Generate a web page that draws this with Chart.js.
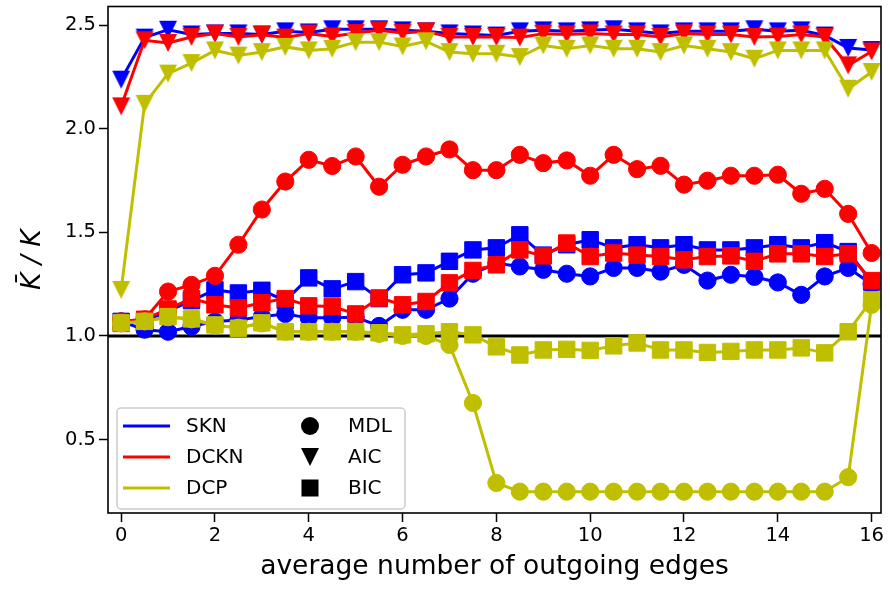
<!DOCTYPE html>
<html>
<head>
<meta charset="utf-8">
<script src="https://cdn.jsdelivr.net/npm/chart.js@4.4.0/dist/chart.umd.min.js"></script>
<style>
  body { margin: 0; background: #fff; }
  #wrap { width: 890px; height: 592px; }
</style>
</head>
<body>
<div id="wrap"><canvas id="myChart" width="890" height="592"></canvas></div>
<script>
// average number of outgoing edges
let edges = [0, 0.5, 1, 1.5, 2, 2.5, 3, 3.5, 4, 4.5, 5, 5.5, 6, 6.5, 7, 7.5, 8,
             8.5, 9, 9.5, 10, 10.5, 11, 11.5, 12, 12.5, 13, 13.5, 14, 14.5, 15, 15.5, 16];
let xTicks = [0, 2, 4, 6, 8, 10, 12, 14, 16];
let yTicks = [0.5, 1.0, 1.5, 2.0, 2.5];

let models = ["SKN", "DCKN", "DCP"];
let criteria = ["MDL", "AIC", "BIC"];

let sknMDL = [1.07, 1.03, 1.02, 1.045, 1.07, 1.077, 1.093, 1.106, 1.087, 1.087, 1.09, 1.048, 1.126, 1.126, 1.18, 1.30, 1.35,
              1.335, 1.319, 1.30, 1.287, 1.328, 1.328, 1.31, 1.343, 1.267, 1.295, 1.285, 1.258, 1.198, 1.287, 1.328, 1.25];
let sknAIC = [2.237, 2.44, 2.478, 2.455, 2.46, 2.46, 2.455, 2.47, 2.465, 2.48, 2.48, 2.48, 2.475, 2.47, 2.46, 2.455, 2.45,
              2.47, 2.475, 2.47, 2.475, 2.48, 2.47, 2.46, 2.47, 2.47, 2.47, 2.48, 2.47, 2.475, 2.45, 2.39, 2.38];
let sknBIC = [1.07, 1.07, 1.12, 1.17, 1.222, 1.207, 1.22, 1.17, 1.28, 1.227, 1.262, 1.18, 1.295, 1.304, 1.36, 1.415, 1.425,
              1.488, 1.39, 1.44, 1.464, 1.425, 1.44, 1.425, 1.44, 1.415, 1.415, 1.425, 1.44, 1.425, 1.45, 1.407, 1.26];

let dcknMDL = [1.07, 1.08, 1.214, 1.246, 1.29, 1.44, 1.61, 1.745, 1.85, 1.82, 1.866, 1.72, 1.826, 1.866, 1.90, 1.80, 1.80,
               1.874, 1.834, 1.847, 1.773, 1.874, 1.805, 1.821, 1.73, 1.749, 1.773, 1.773, 1.778, 1.686, 1.71, 1.589, 1.40];
let dcknAIC = [2.108, 2.427, 2.414, 2.443, 2.459, 2.443, 2.454, 2.44, 2.459, 2.445, 2.462, 2.475, 2.462, 2.47, 2.443, 2.443, 2.443,
               2.44, 2.459, 2.455, 2.46, 2.455, 2.455, 2.443, 2.46, 2.455, 2.455, 2.443, 2.445, 2.455, 2.443, 2.306, 2.373];
let dcknBIC = [1.06, 1.08, 1.13, 1.18, 1.15, 1.135, 1.16, 1.18, 1.145, 1.142, 1.106, 1.183, 1.15, 1.166, 1.256, 1.316, 1.343,
               1.415, 1.386, 1.448, 1.383, 1.40, 1.39, 1.383, 1.367, 1.383, 1.386, 1.36, 1.396, 1.396, 1.383, 1.396, 1.267];

let dcpMDL = [1.06, 1.07, 1.09, 1.08, 1.05, 1.04, 1.06, 1.02, 1.02, 1.02, 1.02, 1.01, 1.0, 1.0, 0.956, 0.676, 0.29,
              0.248, 0.248, 0.248, 0.248, 0.248, 0.248, 0.248, 0.248, 0.248, 0.248, 0.248, 0.248, 0.248, 0.248, 0.318, 1.15];
let dcpAIC = [1.222, 2.12, 2.266, 2.317, 2.378, 2.353, 2.37, 2.395, 2.378, 2.386, 2.418, 2.418, 2.397, 2.422, 2.37, 2.362, 2.362,
              2.346, 2.402, 2.386, 2.402, 2.386, 2.386, 2.37, 2.402, 2.386, 2.37, 2.338, 2.378, 2.378, 2.378, 2.193, 2.274];
let dcpBIC = [1.063, 1.07, 1.093, 1.082, 1.053, 1.037, 1.063, 1.02, 1.02, 1.02, 1.02, 1.015, 1.005, 1.01, 1.02, 1.005, 0.947,
              0.908, 0.932, 0.935, 0.93, 0.952, 0.966, 0.932, 0.932, 0.92, 0.925, 0.932, 0.932, 0.942, 0.918, 1.02, 1.174];

let seriesValues = [
    [sknMDL, sknAIC, sknBIC],
    [dcknMDL, dcknAIC, dcknBIC],
    [dcpMDL, dcpAIC, dcpBIC]
];

let colors = ["#0000ff", "#ff0000", "#bfbf00"];
let FONT = "'DejaVu Sans', sans-serif";

// downward triangle, same width and height, centred on the point
function makeTriangle(color, size) {
    let c = document.createElement("canvas");
    c.width = size + 2;
    c.height = size + 2;
    let g = c.getContext("2d");
    g.fillStyle = color;
    g.beginPath();
    g.moveTo(1, 1);
    g.lineTo(size + 1, 1);
    g.lineTo(size / 2 + 1, size + 1);
    g.closePath();
    g.fill();
    return c;
}

function markerStyle(crit, color) {
    if (crit === "AIC") return { pointStyle: makeTriangle(color, 18), pointRadius: 9 };
    if (crit === "BIC") return { pointStyle: "rect", pointRadius: 11.6 };
    return { pointStyle: "circle", pointRadius: 8.6 };
}

let datasets = [];
let n = 0;
for (let m = 0; m < models.length; m++) {
    for (let k = 0; k < criteria.length; k++) {
        let vals = seriesValues[m][k];
        let pts = [];
        for (let i = 0; i < edges.length; i++) {
            pts.push({ x: edges[i], y: vals[i] });
        }
        let ms = markerStyle(criteria[k], colors[m]);
        datasets.push({
            label: models[m] + " " + criteria[k],
            data: pts,
            borderColor: colors[m],
            backgroundColor: colors[m],
            borderWidth: 3,
            pointStyle: ms.pointStyle,
            pointRadius: ms.pointRadius,
            pointHoverRadius: ms.pointRadius,
            pointBorderWidth: 1,
            pointBorderColor: colors[m],
            pointBackgroundColor: colors[m],
            tension: 0,
            order: 50 - n
        });
        n++;
    }
}

// reference line at K/K = 1
datasets.push({
    label: "ref",
    data: [{ x: -1, y: 1 }, { x: 17, y: 1 }],
    borderColor: "#000",
    borderWidth: 3,
    pointRadius: 0,
    order: 100
});

// box round the plot + the two-column legend
let framePlugin = {
    id: "frame",
    afterDraw(chart) {
        let ctx = chart.ctx;
        let a = chart.chartArea;
        ctx.save();
        ctx.strokeStyle = "#000";
        ctx.lineWidth = 1.6;
        ctx.strokeRect(a.left, a.top, a.right - a.left, a.bottom - a.top);

        // legend
        let bx = 117, by = 408, bw = 288, bh = 101;
        ctx.fillStyle = "rgba(255,255,255,0.8)";
        ctx.strokeStyle = "#cccccc";
        ctx.lineWidth = 1.5;
        ctx.beginPath();
        ctx.roundRect(bx, by, bw, bh, 4);
        ctx.fill();
        ctx.stroke();

        let rows = [426, 457, 488];
        ctx.font = "20px " + FONT;
        ctx.textBaseline = "middle";
        ctx.textAlign = "left";
        for (let i = 0; i < 3; i++) {
            ctx.strokeStyle = colors[i];
            ctx.lineWidth = 3;
            ctx.beginPath();
            ctx.moveTo(123, rows[i]);
            ctx.lineTo(170, rows[i]);
            ctx.stroke();
            ctx.fillStyle = "#000";
            ctx.fillText(models[i], 186, rows[i] + 1);
            ctx.fillText(criteria[i], 348, rows[i] + 1);
        }
        ctx.fillStyle = "#000";
        ctx.beginPath();
        ctx.arc(310, rows[0], 9, 0, Math.PI * 2);
        ctx.fill();
        ctx.beginPath();
        ctx.moveTo(301, rows[1] - 9);
        ctx.lineTo(319, rows[1] - 9);
        ctx.lineTo(310, rows[1] + 9);
        ctx.closePath();
        ctx.fill();
        ctx.fillRect(301.5, rows[2] - 8.5, 17, 17);
        ctx.restore();
    }
};

let ctx = document.getElementById("myChart").getContext("2d");
let chart = new Chart(ctx, {
    type: "line",
    data: { datasets: datasets },
    options: {
        responsive: false,
        animation: false,
        devicePixelRatio: 1,
        layout: { autoPadding: false, padding: { left: 0, right: 9, top: 6.5, bottom: 0 } },
        plugins: {
            legend: { display: false },
            tooltip: { enabled: false }
        },
        scales: {
            x: {
                type: "linear",
                min: -0.28,
                max: 16.2,
                afterBuildTicks(scale) {
                    scale.ticks = xTicks.map(v => ({ value: v }));
                },
                afterFit(scale) {
                    scale.height = 79;
                    scale.paddingLeft = 0;
                    scale.paddingRight = 0;
                },
                grid: { drawOnChartArea: false, drawTicks: true, tickLength: 9, tickWidth: 1.5, tickColor: "#000" },
                border: { display: false },
                ticks: {
                    color: "#000",
                    padding: 2,
                    maxRotation: 0,
                    font: { family: FONT, size: 19.5 },
                    callback: v => String(v)
                },
                title: {
                    display: true,
                    text: "average number of outgoing edges",
                    color: "#000",
                    padding: { top: 0, bottom: 9 },
                    font: { family: FONT, size: 26.5 }
                }
            },
            y: {
                min: 0.145,
                max: 2.59,
                afterBuildTicks(scale) {
                    scale.ticks = yTicks.map(v => ({ value: v }));
                },
                afterFit(scale) {
                    scale.width = 108;
                    scale.paddingTop = 0;
                    scale.paddingBottom = 0;
                },
                grid: { drawOnChartArea: false, drawTicks: true, tickLength: 9, tickWidth: 1.5, tickColor: "#000" },
                border: { display: false },
                ticks: {
                    color: "#000",
                    padding: 3,
                    font: { family: FONT, size: 19.5 },
                    callback: v => v.toFixed(1)
                },
                title: {
                    display: true,
                    text: "K\u0304 / K",
                    color: "#000",
                    padding: { top: 17, bottom: 0 },
                    font: { family: FONT, size: 26.5, style: "italic" }
                }
            }
        }
    },
    plugins: [framePlugin]
});
</script>
</body>
</html>
